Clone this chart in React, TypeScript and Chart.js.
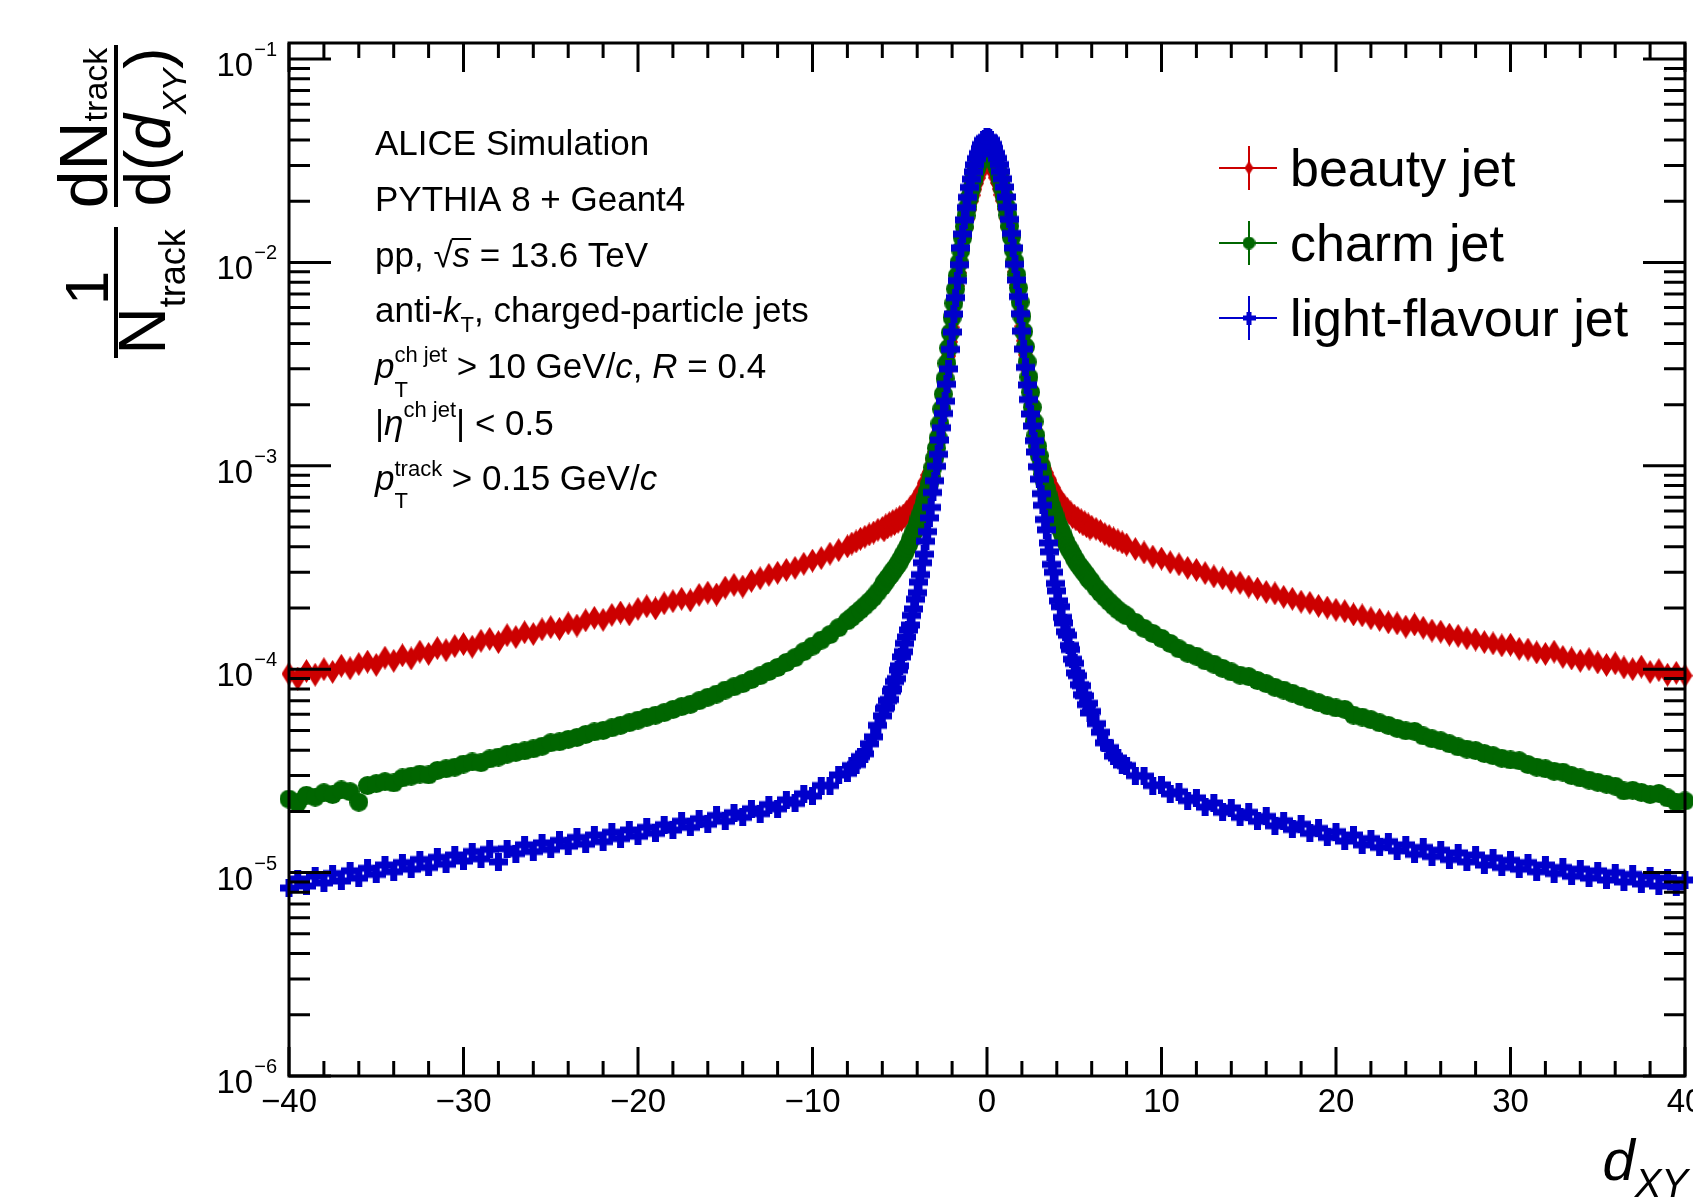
import React, { useEffect, useRef } from "react";
import { Chart, registerables } from "chart.js";

Chart.register(...registerables);

const CANVAS_W = 1693;
const CANVAS_H = 1198;
const FONT_FAMILY = '"Liberation Sans", Arial, Helvetica, sans-serif';

// ---------------- data ----------------
// bin centres of d_XY (coarser in the tails, finer in the core)
const xBins = [
  -40, -39.5, -39, -38.5, -38, -37.5, -37, -36.5, -36, -35.5,
  -35, -34.5, -34, -33.5, -33, -32.5, -32, -31.5, -31, -30.5,
  -30, -29.5, -29, -28.5, -28, -27.5, -27, -26.5, -26, -25.5,
  -25, -24.5, -24, -23.5, -23, -22.5, -22, -21.5, -21, -20.5,
  -20, -19.5, -19, -18.5, -18, -17.5, -17, -16.5, -16, -15.5,
  -15, -14.5, -14, -13.5, -13, -12.5, -12, -11.5, -11, -10.5,
  -10, -9.5, -9, -8.5, -8, -7.75, -7.5, -7.25, -7, -6.75, -6.5, -6.25,
  -6, -5.9, -5.8, -5.7, -5.6, -5.5, -5.4, -5.3, -5.2, -5.1,
  -5, -4.9, -4.8, -4.7, -4.6, -4.5, -4.4, -4.3, -4.2, -4.1,
  -4, -3.9, -3.8, -3.7, -3.6, -3.5, -3.4, -3.3, -3.2, -3.1,
  -3, -2.9, -2.8, -2.7, -2.6, -2.5, -2.4, -2.3, -2.2, -2.1,
  -2, -1.9, -1.8, -1.7, -1.6, -1.5, -1.4, -1.3, -1.2, -1.1,
  -1, -0.9, -0.8, -0.7, -0.6, -0.5, -0.4, -0.3, -0.2, -0.1,
  0,
  0.1, 0.2, 0.3, 0.4, 0.5, 0.6, 0.7, 0.8, 0.9, 1,
  1.1, 1.2, 1.3, 1.4, 1.5, 1.6, 1.7, 1.8, 1.9, 2,
  2.1, 2.2, 2.3, 2.4, 2.5, 2.6, 2.7, 2.8, 2.9, 3,
  3.1, 3.2, 3.3, 3.4, 3.5, 3.6, 3.7, 3.8, 3.9, 4,
  4.1, 4.2, 4.3, 4.4, 4.5, 4.6, 4.7, 4.8, 4.9, 5,
  5.1, 5.2, 5.3, 5.4, 5.5, 5.6, 5.7, 5.8, 5.9, 6,
  6.25, 6.5, 6.75, 7, 7.25, 7.5, 7.75, 8, 8.5, 9, 9.5, 10,
  10.5, 11, 11.5, 12, 12.5, 13, 13.5, 14, 14.5, 15,
  15.5, 16, 16.5, 17, 17.5, 18, 18.5, 19, 19.5, 20,
  20.5, 21, 21.5, 22, 22.5, 23, 23.5, 24, 24.5, 25,
  25.5, 26, 26.5, 27, 27.5, 28, 28.5, 29, 29.5, 30,
  30.5, 31, 31.5, 32, 32.5, 33, 33.5, 34, 34.5, 35,
  35.5, 36, 36.5, 37, 37.5, 38, 38.5, 39, 39.5, 40,
];

const beautyJet = [
  9.5e-5, 9.0e-5, 9.8e-5, 9.4e-5, 1.0e-4, 9.7e-5, 1.04e-4, 1.01e-4, 1.06e-4, 1.09e-4,
  1.05e-4, 1.14e-4, 1.1e-4, 1.17e-4, 1.13e-4, 1.22e-4, 1.19e-4, 1.27e-4, 1.24e-4, 1.3e-4,
  1.33e-4, 1.29e-4, 1.38e-4, 1.41e-4, 1.36e-4, 1.47e-4, 1.44e-4, 1.52e-4, 1.49e-4, 1.57e-4,
  1.61e-4, 1.58e-4, 1.68e-4, 1.64e-4, 1.74e-4, 1.79e-4, 1.75e-4, 1.85e-4, 1.9e-4, 1.86e-4,
  1.98e-4, 2.04e-4, 1.99e-4, 2.11e-4, 2.16e-4, 2.22e-4, 2.18e-4, 2.32e-4, 2.38e-4, 2.33e-4,
  2.52e-4, 2.6e-4, 2.55e-4, 2.72e-4, 2.8e-4, 2.91e-4, 2.98e-4, 3.08e-4, 3.15e-4, 3.3e-4,
  3.42e-4, 3.52e-4, 3.7e-4, 3.85e-4, 4.02e-4, 4.15e-4, 4.25e-4, 4.38e-4, 4.48e-4, 4.6e-4, 4.7e-4, 4.85e-4,
  4.95e-4, 4.82e-4, 5.1e-4, 4.98e-4, 5.22e-4, 5.08e-4, 5.35e-4, 5.18e-4, 5.45e-4, 5.3e-4,
  5.6e-4, 5.42e-4, 5.7e-4, 5.62e-4, 5.95e-4, 5.85e-4, 6.25e-4, 6.15e-4, 6.55e-4, 6.5e-4,
  6.95e-4, 7.0e-4, 7.5e-4, 7.6e-4, 8.2e-4, 8.4e-4, 9.0e-4, 9.35e-4, 1.0e-3, 1.07e-3,
  1.17e-3, 1.3e-3, 1.45e-3, 1.64e-3, 1.86e-3, 2.16e-3, 2.51e-3, 2.95e-3, 3.47e-3, 4.07e-3,
  4.79e-3, 5.62e-3, 6.61e-3, 7.67e-3, 8.9e-3, 1.02e-2, 1.175e-2, 1.32e-2, 1.48e-2, 1.64e-2,
  1.82e-2, 2.0e-2, 2.14e-2, 2.29e-2, 2.45e-2, 2.6e-2, 2.75e-2, 2.88e-2, 3.02e-2, 3.13e-2,
  3.16e-2,
  3.12e-2, 3.01e-2, 2.89e-2, 2.76e-2, 2.61e-2, 2.46e-2, 2.3e-2, 2.15e-2, 2.01e-2, 1.83e-2,
  1.65e-2, 1.49e-2, 1.33e-2, 1.18e-2, 1.03e-2, 9.0e-3, 7.75e-3, 6.7e-3, 5.7e-3, 4.85e-3,
  4.12e-3, 3.52e-3, 3.0e-3, 2.56e-3, 2.2e-3, 1.9e-3, 1.68e-3, 1.49e-3, 1.34e-3, 1.21e-3,
  1.12e-3, 1.04e-3, 9.7e-4, 9.25e-4, 8.7e-4, 8.5e-4, 7.95e-4, 7.8e-4, 7.3e-4, 7.25e-4,
  6.8e-4, 6.75e-4, 6.4e-4, 6.45e-4, 6.1e-4, 6.15e-4, 5.85e-4, 5.9e-4, 5.6e-4, 5.7e-4,
  5.45e-4, 5.55e-4, 5.3e-4, 5.4e-4, 5.15e-4, 5.28e-4, 5.05e-4, 5.15e-4, 4.92e-4, 5.02e-4,
  4.9e-4, 4.78e-4, 4.62e-4, 4.52e-4, 4.4e-4, 4.3e-4, 4.2e-4, 4.1e-4, 3.9e-4, 3.75e-4, 3.58e-4, 3.5e-4,
  3.36e-4, 3.28e-4, 3.15e-4, 3.08e-4, 2.97e-4, 2.86e-4, 2.8e-4, 2.7e-4, 2.66e-4, 2.55e-4,
  2.49e-4, 2.4e-4, 2.36e-4, 2.27e-4, 2.22e-4, 2.15e-4, 2.12e-4, 2.05e-4, 2.01e-4, 1.96e-4,
  1.93e-4, 1.86e-4, 1.84e-4, 1.78e-4, 1.75e-4, 1.7e-4, 1.68e-4, 1.62e-4, 1.66e-4, 1.6e-4,
  1.55e-4, 1.53e-4, 1.48e-4, 1.46e-4, 1.42e-4, 1.4e-4, 1.36e-4, 1.34e-4, 1.31e-4, 1.32e-4,
  1.26e-4, 1.25e-4, 1.21e-4, 1.19e-4, 1.22e-4, 1.15e-4, 1.13e-4, 1.1e-4, 1.12e-4, 1.08e-4,
  1.05e-4, 1.07e-4, 1.02e-4, 1.0e-4, 1.03e-4, 9.7e-5, 9.9e-5, 9.4e-5, 9.6e-5, 9.3e-5,
];

const charmJet = [
  2.3e-5, 2.21e-5, 2.4e-5, 2.35e-5, 2.47e-5, 2.42e-5, 2.55e-5, 2.5e-5, 2.22e-5, 2.68e-5,
  2.74e-5, 2.8e-5, 2.76e-5, 2.92e-5, 2.98e-5, 3.05e-5, 3.02e-5, 3.18e-5, 3.24e-5, 3.3e-5,
  3.42e-5, 3.5e-5, 3.47e-5, 3.62e-5, 3.7e-5, 3.82e-5, 3.9e-5, 3.97e-5, 4.06e-5, 4.18e-5,
  4.35e-5, 4.4e-5, 4.52e-5, 4.62e-5, 4.78e-5, 4.92e-5, 5.0e-5, 5.15e-5, 5.3e-5, 5.46e-5,
  5.62e-5, 5.8e-5, 5.94e-5, 6.12e-5, 6.34e-5, 6.55e-5, 6.72e-5, 7.0e-5, 7.28e-5, 7.55e-5,
  7.9e-5, 8.2e-5, 8.5e-5, 8.9e-5, 9.3e-5, 9.75e-5, 1.02e-4, 1.08e-4, 1.14e-4, 1.22e-4,
  1.3e-4, 1.39e-4, 1.48e-4, 1.6e-4, 1.73e-4, 1.8e-4, 1.88e-4, 1.96e-4, 2.05e-4, 2.15e-4, 2.26e-4, 2.4e-4,
  2.55e-4, 2.66e-4, 2.7e-4, 2.8e-4, 2.86e-4, 2.93e-4, 3.04e-4, 3.1e-4, 3.2e-4, 3.28e-4,
  3.4e-4, 3.52e-4, 3.65e-4, 3.76e-4, 3.92e-4, 4.08e-4, 4.3e-4, 4.48e-4, 4.72e-4, 4.9e-4,
  5.15e-4, 5.48e-4, 5.8e-4, 6.15e-4, 6.55e-4, 7.0e-4, 7.52e-4, 8.15e-4, 8.85e-4, 9.8e-4,
  1.09e-3, 1.22e-3, 1.37e-3, 1.61e-3, 1.9e-3, 2.25e-3, 2.68e-3, 3.19e-3, 3.79e-3, 4.51e-3,
  5.36e-3, 6.3e-3, 7.4e-3, 8.6e-3, 9.98e-3, 1.146e-2, 1.32e-2, 1.5e-2, 1.7e-2, 1.88e-2,
  2.09e-2, 2.29e-2, 2.51e-2, 2.69e-2, 2.88e-2, 3.05e-2, 3.24e-2, 3.39e-2, 3.55e-2, 3.67e-2,
  3.72e-2,
  3.68e-2, 3.56e-2, 3.4e-2, 3.25e-2, 3.06e-2, 2.89e-2, 2.7e-2, 2.52e-2, 2.3e-2, 2.1e-2,
  1.89e-2, 1.71e-2, 1.51e-2, 1.33e-2, 1.155e-2, 1.01e-2, 8.7e-3, 7.5e-3, 6.38e-3, 5.43e-3,
  4.57e-3, 3.85e-3, 3.24e-3, 2.73e-3, 2.3e-3, 1.94e-3, 1.65e-3, 1.41e-3, 1.25e-3, 1.12e-3,
  1.0e-3, 9.1e-4, 8.35e-4, 7.75e-4, 7.2e-4, 6.75e-4, 6.35e-4, 6.0e-4, 5.68e-4, 5.35e-4,
  5.12e-4, 4.88e-4, 4.68e-4, 4.45e-4, 4.26e-4, 4.05e-4, 3.93e-4, 3.78e-4, 3.67e-4, 3.52e-4,
  3.42e-4, 3.3e-4, 3.22e-4, 3.14e-4, 3.05e-4, 2.97e-4, 2.91e-4, 2.8e-4, 2.75e-4, 2.68e-4,
  2.52e-4, 2.38e-4, 2.26e-4, 2.15e-4, 2.05e-4, 1.96e-4, 1.89e-4, 1.83e-4, 1.7e-4, 1.59e-4, 1.5e-4, 1.42e-4,
  1.34e-4, 1.26e-4, 1.2e-4, 1.16e-4, 1.1e-4, 1.06e-4, 1.01e-4, 9.7e-5, 9.35e-5, 9.2e-5,
  8.8e-5, 8.5e-5, 8.15e-5, 7.9e-5, 7.62e-5, 7.35e-5, 7.08e-5, 6.85e-5, 6.62e-5, 6.45e-5,
  6.35e-5, 5.95e-5, 5.82e-5, 5.65e-5, 5.45e-5, 5.3e-5, 5.12e-5, 4.98e-5, 4.95e-5, 4.7e-5,
  4.55e-5, 4.45e-5, 4.3e-5, 4.15e-5, 4.05e-5, 3.98e-5, 3.85e-5, 3.76e-5, 3.65e-5, 3.58e-5,
  3.55e-5, 3.4e-5, 3.3e-5, 3.24e-5, 3.15e-5, 3.12e-5, 3.0e-5, 2.92e-5, 2.85e-5, 2.78e-5,
  2.72e-5, 2.66e-5, 2.52e-5, 2.54e-5, 2.48e-5, 2.42e-5, 2.45e-5, 2.33e-5, 2.22e-5, 2.25e-5,
];

const lightJet = [
  8.4e-6, 9.3e-6, 8.6e-6, 9.6e-6, 8.9e-6, 9.9e-6, 9.1e-6, 1.02e-5, 9.4e-6, 1.05e-5,
  9.8e-6, 1.09e-5, 1.01e-5, 1.12e-5, 1.04e-5, 1.16e-5, 1.06e-5, 1.19e-5, 1.1e-5, 1.22e-5,
  1.14e-5, 1.27e-5, 1.17e-5, 1.3e-5, 1.13e-5, 1.31e-5, 1.24e-5, 1.37e-5, 1.27e-5, 1.4e-5,
  1.3e-5, 1.44e-5, 1.35e-5, 1.49e-5, 1.38e-5, 1.53e-5, 1.42e-5, 1.58e-5, 1.47e-5, 1.62e-5,
  1.51e-5, 1.67e-5, 1.56e-5, 1.72e-5, 1.62e-5, 1.79e-5, 1.67e-5, 1.84e-5, 1.73e-5, 1.91e-5,
  1.79e-5, 1.97e-5, 1.87e-5, 2.06e-5, 1.95e-5, 2.16e-5, 2.06e-5, 2.28e-5, 2.19e-5, 2.44e-5,
  2.38e-5, 2.68e-5, 2.68e-5, 3.02e-5, 3.08e-5, 3.36e-5, 3.4e-5, 3.72e-5, 3.84e-5, 4.3e-5, 4.65e-5, 5.3e-5,
  5.9e-5, 6.4e-5, 6.5e-5, 7.0e-5, 7.1e-5, 7.8e-5, 8.0e-5, 8.7e-5, 9.0e-5, 9.9e-5,
  1.04e-4, 1.15e-4, 1.22e-4, 1.34e-4, 1.44e-4, 1.56e-4, 1.65e-4, 1.84e-4, 1.98e-4, 2.21e-4,
  2.38e-4, 2.68e-4, 2.92e-4, 3.34e-4, 3.68e-4, 4.26e-4, 4.75e-4, 5.55e-4, 6.25e-4, 7.4e-4,
  8.45e-4, 9.95e-4, 1.14e-3, 1.34e-3, 1.54e-3, 1.81e-3, 2.08e-3, 2.52e-3, 3.0e-3, 3.74e-3,
  4.55e-3, 5.58e-3, 6.72e-3, 8.15e-3, 9.75e-3, 1.18e-2, 1.38e-2, 1.62e-2, 1.86e-2, 2.09e-2,
  2.34e-2, 2.57e-2, 2.79e-2, 3.02e-2, 3.24e-2, 3.43e-2, 3.63e-2, 3.8e-2, 3.98e-2, 4.07e-2,
  4.12e-2,
  4.08e-2, 3.99e-2, 3.81e-2, 3.64e-2, 3.44e-2, 3.25e-2, 3.03e-2, 2.8e-2, 2.58e-2, 2.35e-2,
  2.1e-2, 1.87e-2, 1.63e-2, 1.39e-2, 1.18e-2, 9.8e-3, 8.2e-3, 6.8e-3, 5.6e-3, 4.6e-3,
  3.75e-3, 3.05e-3, 2.5e-3, 2.12e-3, 1.8e-3, 1.57e-3, 1.33e-3, 1.17e-3, 9.9e-4, 8.6e-4,
  7.3e-4, 6.4e-4, 5.45e-4, 4.85e-4, 4.18e-4, 3.78e-4, 3.28e-4, 3.0e-4, 2.64e-4, 2.43e-4,
  2.17e-4, 2.03e-4, 1.8e-4, 1.69e-4, 1.53e-4, 1.47e-4, 1.31e-4, 1.25e-4, 1.12e-4, 1.07e-4,
  9.6e-5, 9.3e-5, 8.4e-5, 8.3e-5, 7.5e-5, 7.4e-5, 6.7e-5, 6.8e-5, 6.1e-5, 6.2e-5,
  5.4e-5, 4.9e-5, 4.35e-5, 4.12e-5, 3.74e-5, 3.66e-5, 3.38e-5, 3.36e-5, 3.0e-5, 2.98e-5, 2.68e-5, 2.7e-5,
  2.44e-5, 2.5e-5, 2.26e-5, 2.33e-5, 2.1e-5, 2.2e-5, 1.98e-5, 2.08e-5, 1.87e-5, 1.98e-5,
  1.79e-5, 1.89e-5, 1.7e-5, 1.8e-5, 1.63e-5, 1.73e-5, 1.56e-5, 1.65e-5, 1.49e-5, 1.59e-5,
  1.43e-5, 1.53e-5, 1.37e-5, 1.47e-5, 1.33e-5, 1.42e-5, 1.28e-5, 1.37e-5, 1.23e-5, 1.33e-5,
  1.2e-5, 1.29e-5, 1.16e-5, 1.25e-5, 1.13e-5, 1.22e-5, 1.09e-5, 1.18e-5, 1.06e-5, 1.15e-5,
  1.04e-5, 1.12e-5, 1.01e-5, 1.09e-5, 9.9e-6, 1.06e-5, 9.6e-6, 1.04e-5, 9.4e-6, 1.02e-5,
  9.2e-6, 1.0e-5, 9.0e-6, 9.8e-6, 8.8e-6, 9.6e-6, 8.6e-6, 9.4e-6, 8.5e-6, 9.2e-6,
];

const legendLabels = ["beauty jet", "charm jet", "light-flavour jet"];

const xMajorTicks = [-40, -30, -20, -10, 0, 10, 20, 30, 40];
const xTickLabels = ["\u221240", "\u221230", "\u221220", "\u221210", "0", "10", "20", "30", "40"];
const xMinorTicks = [
  -38, -36, -34, -32, -28, -26, -24, -22, -18, -16, -14, -12, -8, -6, -4, -2,
  2, 4, 6, 8, 12, 14, 16, 18, 22, 24, 26, 28, 32, 34, 36, 38,
];
const yMajorTicks = [1e-6, 1e-5, 1e-4, 1e-3, 1e-2, 1e-1];
const yTickExponents = ["\u22126", "\u22125", "\u22124", "\u22123", "\u22122", "\u22121"];
const yMinorMantissas = [2, 3, 4, 5, 6, 7, 8, 9];

// ---------------- styling ----------------
const COLOR_BEAUTY = "#cc0000";
const COLOR_CHARM = "#006600";
const COLOR_LIGHT = "#0000cc";

type Run = {
  t?: string;
  s: number;
  i?: boolean;
  dy?: number;
  sub?: string;
  sup?: string;
  subDy?: number;
  supDy?: number;
  sqrt?: string;
};

const fontStr = (size: number, italic?: boolean) =>
  `${italic ? "italic " : ""}${size}px ${FONT_FAMILY}`;

function runsWidth(ctx: CanvasRenderingContext2D, runs: Run[]) {
  let w = 0;
  for (const r of runs) {
    if (r.sub !== undefined || r.sup !== undefined) {
      ctx.font = fontStr(r.s, false);
      w += Math.max(r.sub ? ctx.measureText(r.sub).width : 0, r.sup ? ctx.measureText(r.sup).width : 0);
    } else if (r.sqrt !== undefined) {
      ctx.font = fontStr(r.s, false);
      w += ctx.measureText("\u221a").width;
      ctx.font = fontStr(r.s, true);
      w += ctx.measureText(r.sqrt).width;
    } else {
      ctx.font = fontStr(r.s, r.i);
      w += ctx.measureText(r.t || "").width;
    }
  }
  return w;
}

function drawRuns(ctx: CanvasRenderingContext2D, x0: number, y: number, runs: Run[]) {
  let x = x0;
  for (const r of runs) {
    if (r.sub !== undefined || r.sup !== undefined) {
      ctx.font = fontStr(r.s, false);
      let w = 0;
      if (r.sub) {
        ctx.fillText(r.sub, x, y + (r.subDy || 0));
        w = Math.max(w, ctx.measureText(r.sub).width);
      }
      if (r.sup) {
        ctx.fillText(r.sup, x, y + (r.supDy || 0));
        w = Math.max(w, ctx.measureText(r.sup).width);
      }
      x += w;
    } else if (r.sqrt !== undefined) {
      ctx.font = fontStr(r.s, false);
      ctx.fillText("\u221a", x, y);
      const wr = ctx.measureText("\u221a").width;
      ctx.font = fontStr(r.s, true);
      ctx.fillText(r.sqrt, x + wr, y);
      const ws = ctx.measureText(r.sqrt).width;
      ctx.save();
      ctx.strokeStyle = "#000";
      ctx.lineWidth = 2;
      ctx.beginPath();
      ctx.moveTo(x + wr - 1, y - r.s * 0.8);
      ctx.lineTo(x + wr + ws + 1, y - r.s * 0.8);
      ctx.stroke();
      ctx.restore();
      x += wr + ws;
    } else {
      ctx.font = fontStr(r.s, r.i);
      ctx.fillText(r.t || "", x, y + (r.dy || 0));
      x += ctx.measureText(r.t || "").width;
    }
  }
  return x;
}

// vertical (rotated) text centred on a screen y position
function drawRotRuns(ctx: CanvasRenderingContext2D, baseX: number, centerY: number, runs: Run[]) {
  const w = runsWidth(ctx, runs);
  ctx.save();
  ctx.translate(baseX, centerY + w / 2);
  ctx.rotate(-Math.PI / 2);
  drawRuns(ctx, 0, 0, runs);
  ctx.restore();
}

const INFO_SIZE = 35;
const INFO_SMALL = 22;
const infoLines: Run[][] = [
  [{ t: "ALICE Simulation", s: INFO_SIZE }],
  [{ t: "PYTHIA 8 + Geant4", s: INFO_SIZE }],
  [{ t: "pp, ", s: INFO_SIZE }, { sqrt: "s", s: INFO_SIZE }, { t: " = 13.6 TeV", s: INFO_SIZE }],
  [
    { t: "anti-", s: INFO_SIZE },
    { t: "k", s: INFO_SIZE, i: true },
    { t: "T", s: INFO_SMALL, dy: 10 },
    { t: ", charged-particle jets", s: INFO_SIZE },
  ],
  [
    { t: "p", s: INFO_SIZE, i: true },
    { s: INFO_SMALL, sub: "T", sup: "ch jet", subDy: 19, supDy: -16 },
    { t: " > 10 GeV/", s: INFO_SIZE },
    { t: "c", s: INFO_SIZE, i: true },
    { t: ", ", s: INFO_SIZE },
    { t: "R", s: INFO_SIZE, i: true },
    { t: " = 0.4", s: INFO_SIZE },
  ],
  [
    { t: "|", s: INFO_SIZE },
    { t: "\u03b7", s: INFO_SIZE, i: true },
    { s: INFO_SMALL, sup: "ch jet", supDy: -18 },
    { t: "| < 0.5", s: INFO_SIZE },
  ],
  [
    { t: "p", s: INFO_SIZE, i: true },
    { s: INFO_SMALL, sub: "T", sup: "track", subDy: 18, supDy: -14 },
    { t: " > 0.15 GeV/", s: INFO_SIZE },
    { t: "c", s: INFO_SIZE, i: true },
  ],
];
const INFO_X = 375;
const INFO_BASELINES = [155, 211, 267, 322, 378, 435, 490];

function makeDiamond(w: number, h: number, color: string) {
  const c = document.createElement("canvas");
  c.width = w;
  c.height = h;
  const g = c.getContext("2d")!;
  g.fillStyle = color;
  g.beginPath();
  g.moveTo(w / 2, 0);
  g.lineTo(w, h / 2);
  g.lineTo(w / 2, h);
  g.lineTo(0, h / 2);
  g.closePath();
  g.fill();
  return c;
}
function makeCircle(d: number, color: string) {
  const c = document.createElement("canvas");
  c.width = d;
  c.height = d;
  const g = c.getContext("2d")!;
  g.fillStyle = color;
  g.beginPath();
  g.arc(d / 2, d / 2, d / 2, 0, Math.PI * 2);
  g.fill();
  return c;
}
function makeCross(w: number, h: number, t: number, color: string) {
  const c = document.createElement("canvas");
  c.width = w;
  c.height = h;
  const g = c.getContext("2d")!;
  g.fillStyle = color;
  g.fillRect(0, (h - t) / 2, w, t);
  g.fillRect((w - t) / 2, 0, t, h);
  return c;
}

export default function App() {
  const ref = useRef<HTMLCanvasElement>(null);

  useEffect(() => {
    document.body.style.margin = "0";
    const canvas = ref.current!;

    const diamond = makeDiamond(15, 24, COLOR_BEAUTY);
    const circle = makeCircle(19, COLOR_CHARM);
    const cross = makeCross(19, 18, 7, COLOR_LIGHT);
    const legDiamond = makeDiamond(9, 14, COLOR_BEAUTY);
    const legCircle = makeCircle(13, COLOR_CHARM);
    const legCross = makeCross(13, 13, 5, COLOR_LIGHT);

    const toPoints = (ys: number[]) => xBins.map((x, i) => ({ x, y: ys[i] }));

    const rootStyle = {
      id: "rootStyle",
      afterDatasetsDraw(chart: any) {
        const ctx: CanvasRenderingContext2D = chart.ctx;
        const xs = chart.scales.x;
        const ys = chart.scales.y;
        const a = chart.chartArea;
        ctx.save();
        ctx.strokeStyle = "#000";
        ctx.lineWidth = 3;
        ctx.lineCap = "butt";
        ctx.beginPath();
        const xTick = (v: number, len: number) => {
          const px = xs.getPixelForValue(v);
          ctx.moveTo(px, a.bottom);
          ctx.lineTo(px, a.bottom - len);
          ctx.moveTo(px, a.top);
          ctx.lineTo(px, a.top + len);
        };
        xMajorTicks.forEach((v) => xTick(v, 29));
        xMinorTicks.forEach((v) => xTick(v, 15));
        const yTick = (v: number, len: number) => {
          const py = ys.getPixelForValue(v);
          if (py < a.top - 0.5 || py > a.bottom + 0.5) return;
          ctx.moveTo(a.left, py);
          ctx.lineTo(a.left + len, py);
          ctx.moveTo(a.right, py);
          ctx.lineTo(a.right - len, py);
        };
        yMajorTicks.forEach((v) => {
          yTick(v, 42);
          yMinorMantissas.forEach((m) => yTick(v * m, 21));
        });
        ctx.stroke();
        ctx.strokeRect(a.left, a.top, a.right - a.left, a.bottom - a.top);
        ctx.restore();
      },
      afterDraw(chart: any) {
        const ctx: CanvasRenderingContext2D = chart.ctx;
        const xs = chart.scales.x;
        const ys = chart.scales.y;
        ctx.save();
        ctx.fillStyle = "#000";
        ctx.strokeStyle = "#000";
        ctx.textBaseline = "alphabetic";
        ctx.textAlign = "left";

        // x tick labels
        ctx.font = fontStr(33);
        xMajorTicks.forEach((v, i) => {
          const w = ctx.measureText(xTickLabels[i]).width;
          ctx.fillText(xTickLabels[i], xs.getPixelForValue(v) - w / 2, 1112);
        });
        // y tick labels
        yMajorTicks.forEach((v, i) => {
          const py = ys.getPixelForValue(v);
          ctx.font = fontStr(20);
          const ws = ctx.measureText(yTickExponents[i]).width;
          ctx.font = fontStr(33);
          const w10 = ctx.measureText("10").width;
          const x0 = 276 - ws - w10;
          ctx.fillText("10", x0, py + 17);
          ctx.font = fontStr(20);
          ctx.fillText(yTickExponents[i], x0 + w10 + 1, py - 3);
        });

        // x title
        ctx.font = fontStr(40, true);
        const wxy = ctx.measureText("XY").width;
        ctx.font = fontStr(58, true);
        const wd = ctx.measureText("d").width;
        const xr = 1688;
        ctx.fillText("d", xr - wxy - wd, 1180);
        ctx.font = fontStr(40, true);
        ctx.fillText("XY", xr - wxy, 1197);

        // y title
        ctx.fillRect(114, 45, 4, 162);
        ctx.fillRect(114, 227, 4, 131);
        drawRotRuns(ctx, 107, 128, [
          { t: "dN", s: 68 },
          { t: "track", s: 34 },
        ]);
        drawRotRuns(ctx, 170, 127, [
          { t: "d(", s: 64 },
          { t: "d", s: 64, i: true },
          { t: "XY", s: 34, i: true, dy: 16 },
          { t: ")", s: 64 },
        ]);
        drawRotRuns(ctx, 108, 288, [{ t: "1", s: 62 }]);
        drawRotRuns(ctx, 165, 292, [
          { t: "N", s: 66 },
          { t: "track", s: 36, dy: 20 },
        ]);

        // info text
        infoLines.forEach((runs, i) => drawRuns(ctx, INFO_X, INFO_BASELINES[i], runs));

        // legend
        const legColors = [COLOR_BEAUTY, COLOR_CHARM, COLOR_LIGHT];
        const legMarks = [legDiamond, legCircle, legCross];
        const legY = [168, 243, 318];
        legendLabels.forEach((lab, i) => {
          const cy = legY[i];
          ctx.strokeStyle = legColors[i];
          ctx.lineWidth = 2;
          ctx.beginPath();
          ctx.moveTo(1219, cy);
          ctx.lineTo(1277, cy);
          ctx.moveTo(1249, cy - 22);
          ctx.lineTo(1249, cy + 22);
          ctx.stroke();
          const m = legMarks[i];
          ctx.drawImage(m, 1249 - m.width / 2, cy - m.height / 2);
          ctx.fillStyle = "#000";
          ctx.font = fontStr(52);
          ctx.fillText(lab, 1290, cy + 18);
        });
        ctx.restore();
      },
    };

    const chart = new Chart(canvas, {
      type: "scatter",
      data: {
        datasets: [
          {
            label: legendLabels[0],
            data: toPoints(beautyJet),
            pointStyle: diamond as any,
            pointRadius: 7,
            showLine: false,
            order: 3,
            clip: false as any,
          },
          {
            label: legendLabels[1],
            data: toPoints(charmJet),
            pointStyle: circle as any,
            pointRadius: 7,
            showLine: false,
            order: 2,
            clip: false as any,
          },
          {
            label: legendLabels[2],
            data: toPoints(lightJet),
            pointStyle: cross as any,
            pointRadius: 7,
            showLine: false,
            order: 1,
            clip: false as any,
          },
        ],
      },
      options: {
        responsive: false,
        maintainAspectRatio: false,
        devicePixelRatio: 1,
        animation: false,
        events: [],
        layout: { padding: { left: 289, top: 43, right: CANVAS_W - 1689, bottom: CANVAS_H - 1076 } },
        plugins: { legend: { display: false }, tooltip: { enabled: false } },
        scales: {
          x: { type: "linear", min: -40, max: 40, display: false },
          y: { type: "logarithmic", min: 1e-6, max: 0.12, display: false },
        },
      },
      plugins: [rootStyle],
    } as any);

    return () => chart.destroy();
  }, []);

  return (
    <div style={{ position: "absolute", left: 0, top: 0, width: CANVAS_W, height: CANVAS_H, background: "#fff" }}>
      <canvas ref={ref} width={CANVAS_W} height={CANVAS_H} style={{ width: CANVAS_W, height: CANVAS_H, display: "block" }} />
    </div>
  );
}
